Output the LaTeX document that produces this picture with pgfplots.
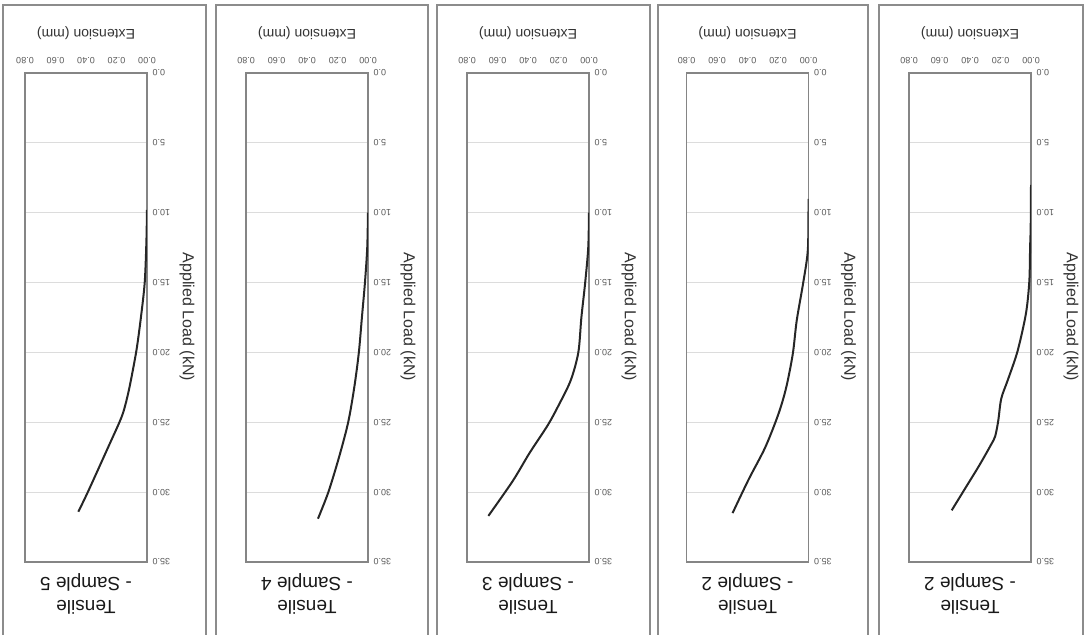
\documentclass[border=0pt]{standalone}
\usepackage{fontspec}
\setmainfont{Liberation Sans}
\usepackage{pgfplots}
\pgfplotsset{compat=1.18}

\definecolor{framegray}{HTML}{8C8C8C}
\definecolor{axisgray}{HTML}{858585}
\definecolor{gridgray}{HTML}{DCDCDC}
\definecolor{ticktext}{HTML}{595959}
\definecolor{curvecol}{HTML}{262626}

% one panel: extension (mm) across, applied load (kN) down, whole chart turned upside down
\pgfplotsset{
  panel/.style={
    scale only axis, width=122pt, height=489pt, anchor=center,
    xmin=0, xmax=0.8, ymin=0, ymax=35,
    x dir=reverse, y dir=reverse,
    xtick={0,0.2,0.4,0.6,0.8}, ytick={0,5,...,35},
    xticklabel pos=upper, yticklabel pos=right,
    ymajorgrids, grid style={draw=gridgray, line width=0.8pt},
    major tick length=0pt,
    axis line style={draw=axisgray, line width=1.1pt},
    tick label style={font=\fontsize{9}{10}\selectfont, text=ticktext},
    /pgf/number format/assume math mode=true,
    xticklabel style={rotate=180, anchor=north,
      /pgf/number format/.cd, fixed, fixed zerofill, precision=2},
    yticklabel style={rotate=180, anchor=east,
      /pgf/number format/.cd, fixed, fixed zerofill, precision=1},
    xticklabel shift=6pt, yticklabel shift=2pt,
  },
  curve/.style={draw=curvecol, line width=2pt, smooth, tension=0.5, mark=none},
}

\newcommand{\paneltext}[2]{% plot-centre x, sample label
  \node[rotate=180, align=center, text=black!90, font=\fontsize{19}{23}\selectfont]
    at (#1,-594) {Tensile\\- #2};
  \node[rotate=180, text=black!80, font=\fontsize{14}{15}\selectfont]
    at (#1,-33) {Extension (mm)};
  \node[rotate=-90, text=black!80, font=\fontsize{16}{17}\selectfont]
    at (#1+101,-317) {Applied Load (kN)};
}

\begin{document}
\begin{tikzpicture}[x=1pt,y=1pt]
\useasboundingbox (0,0) rectangle (1086,-634);

% chart frames
\foreach \l/\r in {3/206, 216/428, 437/650, 658/868, 879/1083}{
  \draw[framegray, line width=1.2pt] (\l,-645) -- (\l,-5) -- (\r,-5) -- (\r,-645);
}

% Sample 5
\begin{axis}[panel, at={(86pt,-317.5pt)}]
\addplot[curve] coordinates {
(0.000,9.8) (0.004,12.1) (0.015,15.0) (0.040,17.5) (0.070,19.9) (0.115,22.5)
(0.148,24.0) (0.177,24.9) (0.247,26.6) (0.384,29.9) (0.450,31.4)};
\end{axis}
\paneltext{86}{Sample 5}

% Sample 4
\begin{axis}[panel, at={(307pt,-317.5pt)}]
\addplot[curve] coordinates {
(0.000,10.0) (0.005,12.5) (0.020,15.0) (0.040,17.5) (0.060,20.0) (0.090,22.5)
(0.130,25.0) (0.190,27.5) (0.260,30.0) (0.328,31.9)};
\end{axis}
\paneltext{307}{Sample 4}

% Sample 3
\begin{axis}[panel, at={(528pt,-317.5pt)}]
\addplot[curve] coordinates {
(0.000,10.0) (0.005,12.5) (0.025,15.0) (0.050,17.5) (0.070,20.0) (0.120,22.0)
(0.200,23.8) (0.270,25.2) (0.390,27.2) (0.500,29.2) (0.660,31.7)};
\end{axis}
\paneltext{528}{Sample 3}

% Sample 2 (second run)
\begin{axis}[panel, at={(747.5pt,-317.5pt)}]
\addplot[curve] coordinates {
(0.000,9.0) (0.004,12.6) (0.033,14.9) (0.077,17.7) (0.103,20.1) (0.146,22.5)
(0.197,24.4) (0.284,26.8) (0.393,29.1) (0.498,31.5)};
\end{axis}
\paneltext{747.5}{Sample 2}

% Sample 2
\begin{axis}[panel, at={(970pt,-317.5pt)}]
\addplot[curve] coordinates {
(0.000,8.0) (0.002,11.0) (0.006,12.5) (0.011,14.9) (0.033,17.2) (0.088,19.9)
(0.153,22.0) (0.195,23.3) (0.215,24.9) (0.235,26.0) (0.262,26.6) (0.340,28.1)
(0.430,29.7) (0.520,31.3)};
\end{axis}
\paneltext{970}{Sample 2}

\end{tikzpicture}
\end{document}
